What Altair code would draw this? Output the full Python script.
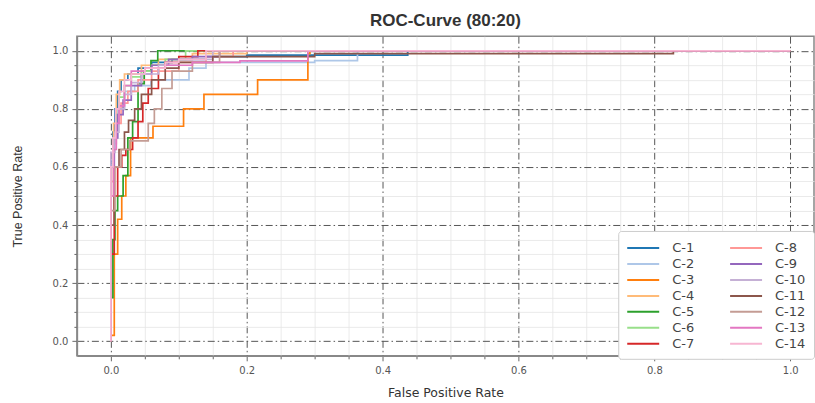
import altair as alt
import pandas as pd

series_names = ["C-1", "C-2", "C-3", "C-4", "C-5", "C-6", "C-7",
                "C-8", "C-9", "C-10", "C-11", "C-12", "C-13", "C-14"]
series_colors = ["#1f77b4", "#aec7e8", "#ff7f0e", "#ffbb78", "#2ca02c", "#98df8a", "#d62728",
                 "#ff9896", "#9467bd", "#c5b0d5", "#8c564b", "#c49c94", "#e377c2", "#f7b6d2"]

# step points: (fpr where the jump happens, tpr level after the jump)
fpr_c1 = [0, 0, 0.003, 0.006, 0.01, 0.015, 0.025, 0.04, 0.06, 0.09, 0.14, 0.2, 0.437, 1.0]
tpr_c1 = [0, 0.62, 0.72, 0.80, 0.86, 0.90, 0.92, 0.94, 0.96, 0.97, 0.98, 0.985, 1.0, 1.0]
fpr_c2 = [0, 0, 0.005, 0.01, 0.02, 0.035, 0.059, 0.115, 0.14, 0.3, 0.363, 1.0]
tpr_c2 = [0, 0.55, 0.70, 0.80, 0.86, 0.88, 0.90, 0.94, 0.96, 0.966, 1.0, 1.0]
fpr_c3 = [0, 0, 0.005, 0.01, 0.016, 0.022, 0.029, 0.062, 0.107, 0.137, 0.216, 0.29, 0.293, 1.0]
tpr_c3 = [0, 0.02, 0.30, 0.42, 0.50, 0.57, 0.70, 0.74, 0.80, 0.85, 0.90, 0.99, 1.0, 1.0]
fpr_c4 = [0, 0, 0.004, 0.008, 0.013, 0.02, 0.045, 0.07, 0.12, 0.2, 1.0]
tpr_c4 = [0, 0.50, 0.75, 0.85, 0.90, 0.92, 0.95, 0.97, 0.99, 1.0, 1.0]
fpr_c5 = [0, 0, 0.003, 0.006, 0.01, 0.018, 0.025, 0.032, 0.04, 0.049, 0.059, 0.069, 1.0]
tpr_c5 = [0, 0.15, 0.35, 0.45, 0.50, 0.57, 0.70, 0.756, 0.887, 0.93, 0.966, 1.0, 1.0]
fpr_c6 = [0, 0, 0.004, 0.008, 0.012, 0.02, 0.03, 0.045, 0.06, 0.08, 0.11, 1.0]
tpr_c6 = [0, 0.60, 0.70, 0.78, 0.84, 0.88, 0.91, 0.93, 0.95, 0.97, 1.0, 1.0]
fpr_c7 = [0, 0, 0.005, 0.01, 0.016, 0.022, 0.032, 0.04, 0.047, 0.055, 0.07, 0.08, 0.1, 0.128, 1.0]
tpr_c7 = [0, 0.30, 0.50, 0.60, 0.64, 0.66, 0.70, 0.756, 0.82, 0.87, 0.94, 0.96, 0.98, 1.0, 1.0]
fpr_c8 = [0, 0, 0.004, 0.008, 0.015, 0.025, 0.04, 0.06, 0.1, 0.14, 0.18, 1.0]
tpr_c8 = [0, 0.55, 0.68, 0.75, 0.82, 0.86, 0.90, 0.93, 0.96, 0.98, 1.0, 1.0]
fpr_c9 = [0, 0, 0.005, 0.01, 0.018, 0.03, 0.045, 0.06, 0.085, 0.12, 0.16, 1.0]
tpr_c9 = [0, 0.60, 0.70, 0.78, 0.83, 0.88, 0.92, 0.95, 0.97, 0.98, 1.0, 1.0]
fpr_c10 = [0, 0, 0.006, 0.012, 0.02, 0.03, 0.045, 0.07, 0.1, 0.15, 1.0]
tpr_c10 = [0, 0.65, 0.72, 0.80, 0.85, 0.89, 0.92, 0.95, 0.97, 1.0, 1.0]
fpr_c11 = [0, 0, 0.005, 0.012, 0.02, 0.026, 0.035, 0.045, 0.06, 0.08, 0.1, 0.15, 0.3, 0.828, 1.0]
tpr_c11 = [0, 0.40, 0.60, 0.66, 0.72, 0.76, 0.80, 0.85, 0.90, 0.94, 0.96, 0.98, 0.99, 1.0, 1.0]
fpr_c12 = [0, 0, 0.006, 0.015, 0.028, 0.055, 0.064, 0.075, 0.09, 0.12, 0.16, 1.0]
tpr_c12 = [0, 0.45, 0.60, 0.66, 0.69, 0.75, 0.80, 0.87, 0.93, 0.96, 1.0, 1.0]
fpr_c13 = [0, 0, 0.004, 0.008, 0.012, 0.02, 0.03, 0.05, 0.08, 0.12, 0.19, 0.29, 1.0]
tpr_c13 = [0, 0.50, 0.66, 0.75, 0.81, 0.88, 0.93, 0.94, 0.95, 0.96, 0.965, 1.0, 1.0]
fpr_c14 = [0, 0, 0.003, 0.007, 0.012, 0.02, 0.03, 0.05, 0.08, 0.1, 0.14, 1.0]
tpr_c14 = [0, 0.60, 0.70, 0.80, 0.86, 0.90, 0.92, 0.94, 0.96, 0.97, 1.0, 1.0]

fpr_lists = [fpr_c1, fpr_c2, fpr_c3, fpr_c4, fpr_c5, fpr_c6, fpr_c7,
             fpr_c8, fpr_c9, fpr_c10, fpr_c11, fpr_c12, fpr_c13, fpr_c14]
tpr_lists = [tpr_c1, tpr_c2, tpr_c3, tpr_c4, tpr_c5, tpr_c6, tpr_c7,
             tpr_c8, tpr_c9, tpr_c10, tpr_c11, tpr_c12, tpr_c13, tpr_c14]

x_ticks = [0, 0.05, 0.1, 0.15, 0.2, 0.25, 0.3, 0.35, 0.4, 0.45, 0.5, 0.55, 0.6,
           0.65, 0.7, 0.75, 0.8, 0.85, 0.9, 0.95, 1.0]
y_ticks = [0, 0.05, 0.1, 0.15, 0.2, 0.25, 0.3, 0.35, 0.4, 0.45, 0.5, 0.55, 0.6,
           0.65, 0.7, 0.75, 0.8, 0.85, 0.9, 0.95, 1.0]

rows = []
for name, fl, tl in zip(series_names, fpr_lists, tpr_lists):
    for i, (f, t) in enumerate(zip(fl, tl)):
        rows.append({"series": name, "fpr": f, "tpr": t, "idx": i})
df = pd.DataFrame(rows)

major = "abs(datum.value*5 - round(datum.value*5)) < 0.001"

def axis_common(title, values, **kw):
    return alt.Axis(
        title=title,
        values=values,
        labelExpr=f"{major} ? format(datum.value, '.1f') : ''",
        gridColor={"condition": {"test": major, "value": "#555555"}, "value": "#e4e4e4"},
        gridDash={"condition": {"test": major, "value": [7, 3, 1.5, 3]}, "value": []},
        gridWidth={"condition": {"test": major, "value": 1}, "value": 0.8},
        tickSize={"condition": {"test": major, "value": 5}, "value": 3},
        tickColor="#666",
        domainColor="#888",
        domainWidth=1.5,
        labelFont="DejaVu Sans",
        labelFontSize=10,
        labelColor="#555",
        titleFontWeight="normal",
        titleColor="#333",
        titleFontSize=12.5,
        **kw,
    )

chart = alt.Chart(df).mark_line(interpolate="step-after", strokeWidth=1.7, clip=True).encode(
    x=alt.X("fpr:Q", scale=alt.Scale(domain=[-0.05, 1.035], nice=False, zero=False),
            axis=axis_common("False Positive Rate", x_ticks, titleFont="DejaVu Sans",
                             titlePadding=11, labelPadding=5)),
    y=alt.Y("tpr:Q", scale=alt.Scale(domain=[-0.05, 1.05], nice=False, zero=False),
            axis=axis_common("True Positive Rate", y_ticks, titleFont="Liberation Sans",
                             titlePadding=28, labelPadding=4)),
    color=alt.Color("series:N", scale=alt.Scale(domain=series_names, range=series_colors),
                    legend=alt.Legend(orient="none", legendX=542, legendY=195, columns=2,
                                      title=None, symbolType="M-1,0L3,0", symbolSize=256,
                                      symbolStrokeWidth=2, labelFontSize=13,
                                      labelFont="DejaVu Sans", labelColor="#444",
                                      padding=8, fillColor="white", strokeColor="#cccccc",
                                      cornerRadius=3, labelOffset=28, columnPadding=31,
                                      rowPadding=0)),
    detail="series:N",
    order="idx:Q",
).properties(
    width=738, height=320,
    title=alt.Title("ROC-Curve (80:20)", font="Liberation Sans", fontSize=17,
                    fontWeight="bold", color="#333", offset=6),
    padding={"left": 11, "top": 12, "right": 0, "bottom": 5},
).configure_view(stroke="#888", strokeWidth=1.5)

chart.save("out.html", embed_options={"renderer": "svg", "actions": False})
